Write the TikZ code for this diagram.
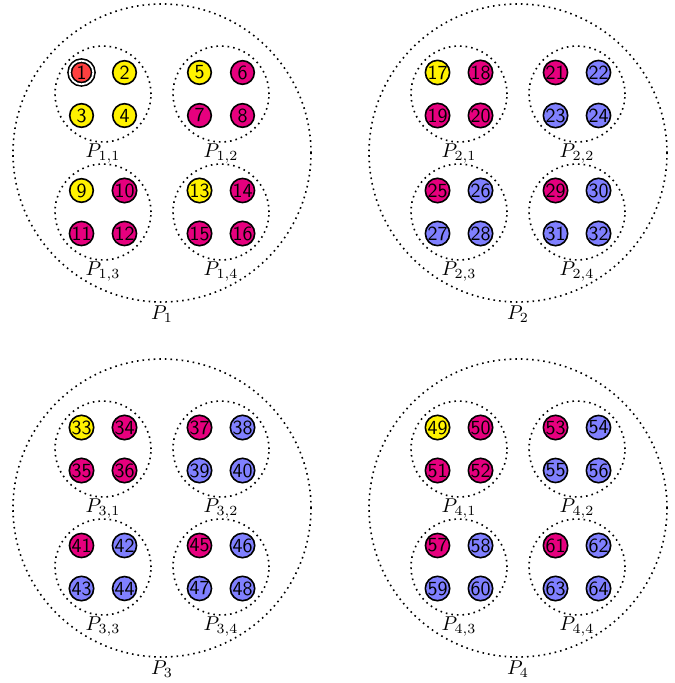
\documentclass[tikz,border=0pt]{standalone}
\usetikzlibrary{shapes.geometric}
\definecolor{c0}{RGB}{255,242,0}
\definecolor{c1}{RGB}{230,0,126}
\definecolor{c2}{RGB}{128,128,255}
\definecolor{c3}{RGB}{255,64,64}
\tikzset{
  num/.style={circle, draw=black, thick, minimum size=11.8pt, inner sep=0pt,
    font=\sffamily},
  ring0/.style={},
  ring1/.style={double=white, double distance=0.9pt},
  grp/.style={circle, draw=black, thick, dotted, inner sep=0pt,
    minimum size=48pt},
  part/.style={circle, draw=black, thick, dotted, inner sep=0pt,
    minimum size=149pt},
  sublab/.style={inner sep=0.5pt},
  lab/.style={inner sep=1.5pt},
}
\begin{document}
\begin{tikzpicture}[x=0.5pt, y=-0.5pt]
\useasboundingbox (0,0) rectangle (674,683);
\foreach \b/\bx/\by in {1/162/153, 2/518/153, 3/162/508, 4/518/508} {
  % outer partition
  \node[part, label={[lab]below:$P_{\b}$}] (P\b) at (\bx,\by) {};
  \foreach \g/\gx/\gy in {1/-59/-59, 2/59/-59, 3/-59/59, 4/59/59} {
    % sub-partition
    \node[grp, label={[sublab]below:$P_{\b,\g}$}] (P\b\g) at (\bx+\gx,\by+\gy) {};
    \foreach \k/\kx/\ky in {1/-21.5/-21.5, 2/21.5/-21.5, 3/-21.5/21.5, 4/21.5/21.5} {
      \pgfmathtruncatemacro\n{16*(\b-1)+4*(\g-1)+\k}
      \pgfmathtruncatemacro\ci{\k==1 ?
        ((\b==1 && \g==1) ? 3 : ((\b==1 || \g==1) ? 0 : 1)) :
        ((\b==1 && \g==1) ? 0 : ((\b==1 || \g==1) ? 1 : 2))}
      \pgfmathtruncatemacro\r{\n==1 ? 1 : 0}
      \node[num, fill=c\ci, ring\r] (n\n) at (\bx+\gx+\kx,\by+\gy+\ky) {\n};
    }
  }
}
\end{tikzpicture}
\end{document}
